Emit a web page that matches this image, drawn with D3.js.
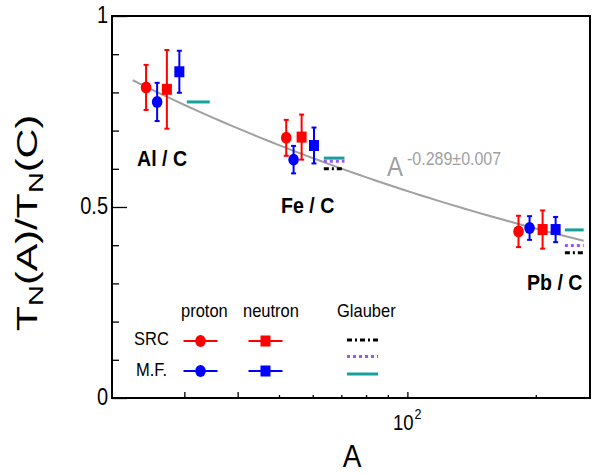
<!DOCTYPE html>
<html>
<head>
<meta charset="utf-8">
<script src="https://cdn.jsdelivr.net/npm/d3@7"></script>
<style>
  body { margin: 0; background: #fff; }
  svg { display: block; font-family: "Liberation Sans", Arial, sans-serif; }
</style>
</head>
<body>
<svg id="chart" width="593" height="474"></svg>
<script>
// ---- data ----
const nuclei = ["Al / C", "Fe / C", "Pb / C"];

// x positions are A, shifted a bit around 27 / 56 / 208 so points don't overlap
const protonSrcA = [24.4, 52.0, 182.2];
const protonSrcVal = [0.813, 0.681, 0.436];
const protonSrcErr = [0.059, 0.047, 0.041];

const protonMfA = [25.9, 54.1, 193.4];
const protonMfVal = [0.775, 0.624, 0.445];
const protonMfErr = [0.050, 0.036, 0.031];

const neutronSrcA = [27.3, 56.5, 207.5];
const neutronSrcVal = [0.808, 0.683, 0.441];
const neutronSrcErr = [0.103, 0.059, 0.050];

const neutronMfA = [29.2, 60.4, 222.6];
const neutronMfVal = [0.854, 0.661, 0.441];
const neutronMfErr = [0.055, 0.047, 0.033];

// Glauber calculations, drawn as short horizontal segments (Al only shows the teal one)
const glauberLoA = [30.4, 63.7, 234];
const glauberHiA = [34.4, 71.2, 259];
const glauberSrc = [null, 0.600, 0.380];    // black dash-dot
const glauberMf = [null, 0.620, 0.399];     // purple dotted
const glauberAll = [0.775, 0.628, 0.440];   // teal solid

// fit A^-0.289 normalised to carbon
const fitExp = -0.289;
const fitRefA = 12;
const fitRange = [22.7, 259];

const yTicks = [0, 0.1, 0.2, 0.3, 0.4, 0.5, 0.6, 0.7, 0.8, 0.9, 1];
const yLabels = [0, 0.5, 1];
const xTicks = [30, 40, 50, 60, 70, 80, 90, 100, 200];
const xLongTicks = [30, 40, 100];

const RED = "#ff0000", BLUE = "#0000ff", TEAL = "#16a09a", PURPLE = "#9955ff", GREY = "#a0a0a0";
const K = 1.15; // the picture is a bit stretched vertically

const svg = d3.select("#chart");
const padL = 112, padR = 590, padT = 16, padB = 398;

const x = d3.scaleLog().domain([20.3, 268]).range([padL, padR]);
const y = d3.scaleLinear().domain([0, 1]).range([padB, padT]);

// text helper: baseline at (tx, ty), vertically stretched
function txt(tx, ty, str, size, opts = {}) {
    const t = svg.append("text")
        .attr("transform", `translate(${tx},${ty}) scale(1,${K})`)
        .attr("font-size", size)
        .attr("fill", opts.fill || "#000")
        .attr("font-weight", opts.bold ? "bold" : "normal")
        .attr("text-anchor", opts.anchor || "start")
        .text(str);
    return t;
}

// ---- axes ----
const yAxis = svg.append("g")
    .attr("transform", `translate(${padL},0)`)
    .call(d3.axisLeft(y).tickValues(yTicks).tickSizeInner(-7).tickSizeOuter(0).tickFormat(""));
yAxis.select(".domain").remove();
yAxis.selectAll(".tick line")
    .attr("stroke-width", 1.3)
    .attr("x2", d => (yLabels.includes(d) ? 15 : 7));

const xAxis = svg.append("g")
    .attr("transform", `translate(0,${padB})`)
    .call(d3.axisBottom(x).tickValues(xTicks).tickSizeInner(-3).tickSizeOuter(0).tickFormat(""));
xAxis.select(".domain").remove();
xAxis.selectAll(".tick line")
    .attr("stroke-width", 1.3)
    .attr("y2", d => (xLongTicks.includes(d) ? -6 : -3));

svg.append("rect")
    .attr("x", padL).attr("y", padT)
    .attr("width", padR - padL).attr("height", padB - padT)
    .attr("fill", "none").attr("stroke", "#000").attr("stroke-width", 2);

yLabels.forEach(v => txt(108, y(v) + 7, String(v), 20, { anchor: "end" }));

// 10^2 label
txt(393, 430, "10", 18.5);
txt(414.5, 419, "2", 12.5);

// axis titles
txt(352, 467, "A", 28, { anchor: "middle" });

const yt = svg.append("text")
    .attr("transform", `translate(37,223) rotate(-90) scale(1.38,1)`)
    .attr("font-size", 30)
    .attr("text-anchor", "middle");
yt.append("tspan").text("T");
yt.append("tspan").attr("font-size", 21).attr("dy", 6).text("N");
yt.append("tspan").attr("dy", -6).text("(A)/T");
yt.append("tspan").attr("font-size", 21).attr("dy", 6).text("N");
yt.append("tspan").attr("dy", -6).text("(C)");

// ---- fit curve ----
const fitPts = d3.range(0, 1.0001, 0.02).map(t => {
    const a = fitRange[0] * Math.pow(fitRange[1] / fitRange[0], t);
    return [a, Math.pow(a / fitRefA, fitExp)];
});
svg.append("path")
    .datum(fitPts)
    .attr("d", d3.line().x(d => x(d[0])).y(d => y(d[1])))
    .attr("fill", "none").attr("stroke", GREY).attr("stroke-width", 2);

txt(387, 176, "A", 24, { fill: GREY });
txt(407, 165, "-0.289\u00b10.007", 16, { fill: GREY });

// ---- Glauber segments ----
function glauber(vals, color, dash) {
    svg.selectAll(null)
        .data(vals.map((v, i) => ({ v: v, i: i })).filter(d => d.v !== null))
        .enter()
        .append("line")
        .attr("x1", d => x(glauberLoA[d.i]))
        .attr("x2", d => x(glauberHiA[d.i]))
        .attr("y1", d => y(d.v))
        .attr("y2", d => y(d.v))
        .attr("stroke", color)
        .attr("stroke-width", 3)
        .attr("stroke-dasharray", dash);
}
glauber(glauberSrc, "#000", "5,3,2,3");
glauber(glauberMf, PURPLE, "3,3");
glauber(glauberAll, TEAL, null);

// ---- data points with error bars ----
function drawSeries(as, vals, errs, color, shape) {
    const g = svg.append("g");
    const pts = as.map((a, i) => ({ a: a, v: vals[i], e: errs[i] }));
    const pg = g.selectAll(".pt").data(pts).enter().append("g");
    pg.append("line")
        .attr("x1", d => x(d.a)).attr("x2", d => x(d.a))
        .attr("y1", d => y(d.v - d.e)).attr("y2", d => y(d.v + d.e))
        .attr("stroke", color).attr("stroke-width", 2);
    [-1, 1].forEach(s => {
        pg.append("line")
            .attr("x1", d => x(d.a) - 2.5).attr("x2", d => x(d.a) + 2.5)
            .attr("y1", d => y(d.v + s * d.e)).attr("y2", d => y(d.v + s * d.e))
            .attr("stroke", color).attr("stroke-width", 2);
    });
    if (shape === "circle") {
        pg.append("ellipse")
            .attr("cx", d => x(d.a)).attr("cy", d => y(d.v))
            .attr("rx", 5.3).attr("ry", 6)
            .attr("fill", color);
    } else {
        pg.append("rect")
            .attr("x", d => x(d.a) - 5).attr("y", d => y(d.v) - 5.5)
            .attr("width", 10).attr("height", 11)
            .attr("fill", color);
    }
}
drawSeries(protonSrcA, protonSrcVal, protonSrcErr, RED, "circle");
drawSeries(protonMfA, protonMfVal, protonMfErr, BLUE, "circle");
drawSeries(neutronSrcA, neutronSrcVal, neutronSrcErr, RED, "square");
drawSeries(neutronMfA, neutronMfVal, neutronMfErr, BLUE, "square");

// nucleus labels
txt(137, 166, nuclei[0], 19.6, { bold: true });
txt(281, 213, nuclei[1], 19.6, { bold: true });
txt(527, 290, nuclei[2], 19.6, { bold: true });

// ---- legend ----
txt(181, 317, "proton", 16.5);
txt(243, 317, "neutron", 16.5);
txt(337, 317, "Glauber", 16.5);
txt(134, 345, "SRC", 16.5);
txt(136, 376, "M.F.", 16.5);

function legendMark(cx, cy, color, shape) {
    svg.append("line")
        .attr("x1", cx - 17).attr("x2", cx + 17)
        .attr("y1", cy).attr("y2", cy)
        .attr("stroke", color).attr("stroke-width", 2);
    if (shape === "circle") {
        svg.append("ellipse").attr("cx", cx).attr("cy", cy)
            .attr("rx", 5.3).attr("ry", 6).attr("fill", color);
    } else {
        svg.append("rect").attr("x", cx - 5).attr("y", cy - 5.5)
            .attr("width", 10).attr("height", 11).attr("fill", color);
    }
}
legendMark(200.5, 341, RED, "circle");
legendMark(265.5, 341, RED, "square");
legendMark(200.5, 371, BLUE, "circle");
legendMark(265.5, 371, BLUE, "square");

[["#000", "5,3,2,3", 340], [PURPLE, "3,3", 356.5], [TEAL, null, 374]].forEach(([c, dash, ly]) => {
    svg.append("line")
        .attr("x1", 347).attr("x2", 378)
        .attr("y1", ly).attr("y2", ly)
        .attr("stroke", c).attr("stroke-width", 3)
        .attr("stroke-dasharray", dash);
});
</script>
</body>
</html>
